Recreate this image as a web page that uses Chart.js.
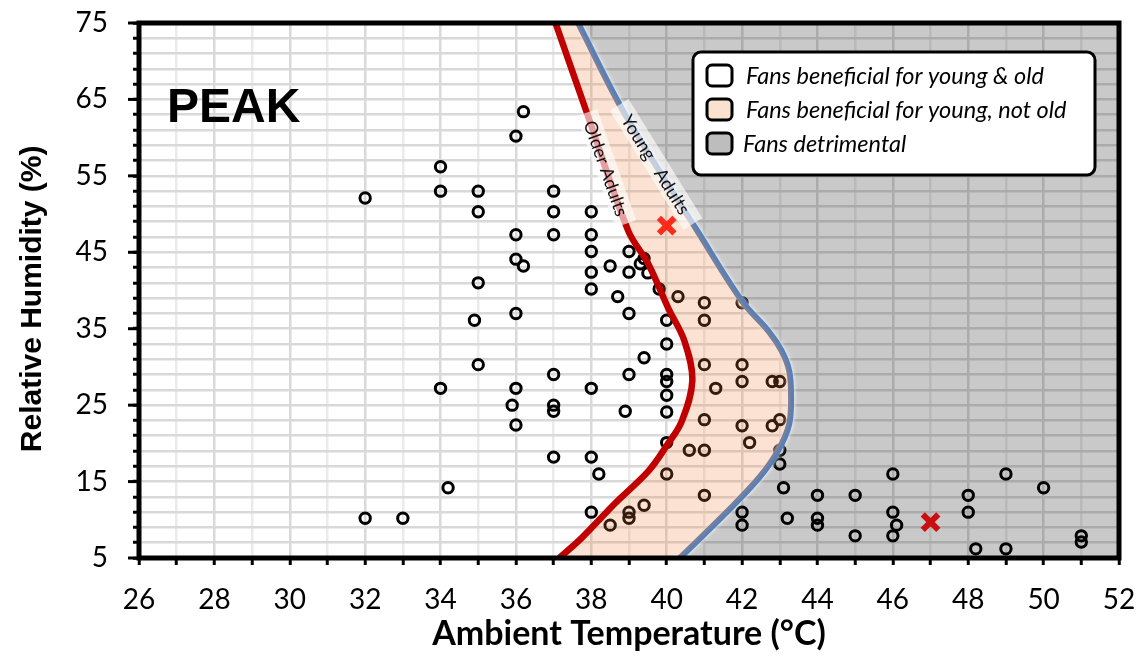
<!DOCTYPE html>
<html>
<head>
<meta charset="utf-8">
<script src="https://cdn.jsdelivr.net/npm/chart.js@4.4.1/dist/chart.umd.min.js"></script>
<style>
  html, body { margin: 0; padding: 0; background: #fff; }
  #wrap { width: 1141px; height: 656px; }
</style>
</head>
<body>
<div id="wrap"><canvas id="peakChart" width="1141" height="656"></canvas></div>
<script>
// Trials: ambient temperature (°C) and relative humidity (%)
const trialTemp = [32, 32, 33, 34, 34, 34, 34.2, 35, 35, 35, 34.9, 35,
  36, 36.2, 36, 36, 36.2, 36, 36, 35.9, 36,
  37, 37, 37, 37, 37, 37, 37,
  38, 38, 38, 38, 38, 38, 38, 38.2, 38, 38.5, 38.5, 38.7,
  39, 39, 39, 39, 38.9, 39, 39, 39.4, 39.3, 39.5, 39.8, 39.4, 39.4,
  40.3, 40, 40, 40, 40, 40, 40, 40, 40, 40.6,
  41, 41, 41, 41, 41, 41, 41.3,
  42, 42, 42, 42, 42.2, 42, 42,
  42.8, 43, 43, 42.8, 43, 43, 43.1, 43.2,
  44, 44, 44, 45, 45, 46, 46, 46.1, 46,
  48, 48, 48.2, 49, 49, 50, 51, 51];
const trialRH = [52.1, 10.2, 10.2, 56.2, 53.0, 27.2, 14.2, 53.0, 50.3, 41.0, 36.1, 30.3,
  60.2, 63.4, 47.3, 44.1, 43.2, 37.0, 27.2, 25.0, 22.4,
  53.0, 50.3, 47.3, 29.0, 25.0, 24.2, 18.2,
  50.3, 47.3, 45.1, 42.4, 40.2, 27.2, 18.2, 16.0, 11.0, 9.3, 43.2, 39.2,
  45.1, 42.4, 37.0, 29.0, 24.2, 11.0, 10.2, 44.2, 43.5, 42.3, 40.2, 31.2, 11.9,
  39.2, 36.1, 33.0, 29.0, 28.1, 26.3, 24.1, 20.1, 16.0, 19.1,
  19.1, 38.4, 36.1, 30.3, 23.1, 13.2, 27.2,
  38.4, 30.3, 28.1, 22.3, 20.1, 11.0, 9.3,
  28.1, 28.1, 23.1, 22.3, 19.1, 17.3, 14.2, 10.2,
  13.2, 10.2, 9.3, 13.2, 7.9, 16.0, 11.0, 9.3, 7.9,
  13.2, 11.0, 6.2, 16.0, 6.2, 14.2, 7.9, 7.1];

// Highlighted trials (red crosses)
const markTemp = [40, 47];
const markRH = [48.5, 9.7];

// Fan thresholds, listed from low to high humidity
const olderRH   = [5, 7.6, 12.1, 16.4, 19.7, 22.9, 28.2, 33.4, 37.7, 43.5, 47.8, 63, 75];
const olderTemp = [37.15, 37.74, 38.62, 39.52, 40.0, 40.4, 40.68, 40.47, 40.04, 39.51, 38.98, 37.9, 37.05];
const youngRH   = [5, 10.8, 15.5, 19, 22.5, 26.2, 29.5, 32.1, 34.7, 38.6, 47.5, 63, 75];
const youngTemp = [40.35, 41.55, 42.45, 42.95, 43.25, 43.3, 43.25, 43.05, 42.7, 42.0, 40.85, 38.9, 37.65];

// Labelled ticks
const tempLabels = [26, 28, 30, 32, 34, 36, 38, 40, 42, 44, 46, 48, 50, 52];
const rhLabels = [5, 15, 25, 35, 45, 55, 65, 75];

const legendItems = [
  { text: 'Fans beneficial for young & old', fill: '#FFFFFF' },
  { text: 'Fans beneficial for young, not old', fill: '#FBE1CF' },
  { text: 'Fans detrimental', fill: '#BDBDBD' }
];

const toPoints = (xs, ys) => xs.map((x, i) => ({ x: x, y: ys[i] }));

// point on a threshold curve at a given humidity, plus the local direction
function curveSpot(chart, temps, rhs, rh) {
  const sx = chart.scales.x, sy = chart.scales.y;
  let i = 0;
  while (i < rhs.length - 2 && rhs[i + 1] < rh) i++;
  const t = (rh - rhs[i]) / (rhs[i + 1] - rhs[i]);
  const lo = { x: sx.getPixelForValue(temps[i]), y: sy.getPixelForValue(rhs[i]) };
  const hi = { x: sx.getPixelForValue(temps[i + 1]), y: sy.getPixelForValue(rhs[i + 1]) };
  return {
    x: lo.x + (hi.x - lo.x) * t,
    y: lo.y + (hi.y - lo.y) * t,
    angle: Math.atan2(lo.y - hi.y, lo.x - hi.x)
  };
}

const curveTags = [
  { temps: olderTemp, rhs: olderRH, rh: 56, text: 'Older Adults', len: 118 },
  { temps: youngTemp, rhs: youngRH, rh: 56.5, text: 'Young   Adults', len: 140 }
];

function roundRect(ctx, x, y, w, h, r) {
  ctx.beginPath();
  ctx.moveTo(x + r, y);
  ctx.arcTo(x + w, y, x + w, y + h, r);
  ctx.arcTo(x + w, y + h, x, y + h, r);
  ctx.arcTo(x, y + h, x, y, r);
  ctx.arcTo(x, y, x + w, y, r);
  ctx.closePath();
}

// soft white edge round the young-adult curve
const curveGlow = {
  id: 'curveGlow',
  beforeDatasetDraw(chart, args) {
    if (args.index !== 1) return;
    chart.ctx.save();
    chart.ctx.shadowColor = 'rgba(255,255,255,0.95)';
    chart.ctx.shadowBlur = 4;
  },
  afterDatasetDraw(chart, args) {
    if (args.index !== 1) return;
    chart.ctx.restore();
  }
};

const decorations = {
  id: 'decorations',
  afterDatasetsDraw(chart) {
    const { ctx, chartArea: a } = chart;
    const sy = chart.scales.y;

    // curve labels
    curveTags.forEach(tag => {
      const s = curveSpot(chart, tag.temps, tag.rhs, tag.rh);
      ctx.save();
      ctx.translate(s.x, s.y);
      ctx.rotate(s.angle);
      ctx.fillStyle = 'rgba(255,255,255,0.62)';
      ctx.fillRect(-tag.len / 2, -11, tag.len, 22);
      ctx.fillStyle = '#111';
      ctx.font = '18px Lato';
      ctx.textAlign = 'center';
      ctx.textBaseline = 'middle';
      ctx.fillText(tag.text, 0, 1);
      ctx.restore();
    });

    // PEAK
    ctx.save();
    ctx.fillStyle = '#000';
    ctx.font = 'bold 48px "Liberation Sans"';
    ctx.textBaseline = 'alphabetic';
    ctx.fillText('PEAK', a.left + 28, a.top + 99);
    ctx.restore();

    // frame and the longer ticks at labelled humidities
    ctx.save();
    ctx.strokeStyle = '#000';
    ctx.lineWidth = 5;
    ctx.strokeRect(a.left, a.top, a.right - a.left, a.bottom - a.top);
    ctx.lineWidth = 3;
    rhLabels.forEach(v => {
      const y = sy.getPixelForValue(v);
      ctx.beginPath();
      ctx.moveTo(a.left - 11, y);
      ctx.lineTo(a.left, y);
      ctx.stroke();
    });
    ctx.restore();

    // legend
    const lx = a.right - 426, ly = a.top + 29;
    ctx.save();
    roundRect(ctx, lx, ly, 402, 123, 8);
    ctx.fillStyle = '#fff';
    ctx.fill();
    ctx.lineWidth = 3;
    ctx.strokeStyle = '#000';
    ctx.stroke();
    legendItems.forEach((item, i) => {
      const y = ly + 13 + i * 34;
      roundRect(ctx, lx + 14, y, 25, 21, 5);
      ctx.fillStyle = item.fill;
      ctx.fill();
      ctx.lineWidth = 3;
      ctx.stroke();
      ctx.fillStyle = '#000';
      ctx.font = 'italic 23.5px Lato';
      ctx.textBaseline = 'middle';
      ctx.fillText(item.text, lx + (i === 2 ? 50 : 53), y + 11);
    });
    ctx.restore();
  }
};

const ctx = document.getElementById('peakChart').getContext('2d');
const peakChart = new Chart(ctx, {
  type: 'line',
  data: {
    datasets: [
      {
        label: 'Older Adults',
        data: toPoints(olderTemp, olderRH),
        indexAxis: 'y',
        tension: 0.35,
        borderColor: '#C00000',
        borderWidth: 6.5,
        pointRadius: 0,
        backgroundColor: 'rgba(237,125,49,0.22)',
        fill: '+1'
      },
      {
        label: 'Young Adults',
        data: toPoints(youngTemp, youngRH),
        indexAxis: 'y',
        tension: 0.35,
        borderColor: '#5580BA',
        borderWidth: 6,
        pointRadius: 0,
        backgroundColor: 'rgba(0,0,0,0.21)',
        fill: { value: 52 }
      },
      {
        label: 'Marked',
        data: toPoints(markTemp, markRH),
        showLine: false,
        pointStyle: 'crossRot',
        pointRadius: 11,
        pointBorderWidth: 6,
        pointBorderColor: '#FF1414'
      },
      {
        label: 'Trials',
        data: toPoints(trialTemp, trialRH),
        showLine: false,
        pointStyle: 'circle',
        pointRadius: 5.2,
        pointBorderWidth: 3,
        pointBorderColor: '#000',
        pointBackgroundColor: 'rgba(0,0,0,0)'
      }
    ]
  },
  options: {
    responsive: false,
    animation: false,
    events: [],
    layout: { padding: { top: 23, right: 22, left: 0, bottom: 0 } },
    plugins: {
      legend: { display: false },
      tooltip: { enabled: false }
    },
    scales: {
      x: {
        type: 'linear',
        min: 26,
        max: 52,
        afterFit: s => { s.height = 98; s.paddingLeft = 0; s.paddingRight = 0; },
        border: { display: false },
        grid: {
          color: c => (c.tick && c.tick.value % 2 === 0) ? '#D9D9D9' : '#EBEBEB',
          lineWidth: 2.5,
          tickLength: 7,
          tickColor: '#000',
          tickWidth: 3
        },
        ticks: {
          stepSize: 1,
          autoSkip: false,
          maxRotation: 0,
          padding: 18,
          color: '#000',
          font: { family: 'Lato', size: 28 },
          callback: v => tempLabels.includes(v) ? String(v) : ''
        },
        title: {
          display: true,
          text: 'Ambient Temperature (°C)',
          color: '#000',
          font: { family: 'Lato', size: 34, weight: 'bold' },
          padding: { top: 0, bottom: 2 }
        }
      },
      y: {
        type: 'linear',
        min: 5,
        max: 75,
        afterFit: s => { s.width = 139; s.paddingTop = 0; s.paddingBottom = 0; },
        border: { display: false },
        grid: {
          color: '#D9D9D9',
          lineWidth: 2.5,
          tickLength: 6,
          tickColor: '#000',
          tickWidth: 3
        },
        ticks: {
          stepSize: 2,
          autoSkip: false,
          padding: 25,
          color: '#000',
          font: { family: 'Lato', size: 28 },
          callback: v => rhLabels.includes(v) ? String(v) : ''
        },
        title: {
          display: true,
          text: 'Relative Humidity (%)  ',
          color: '#000',
          font: { family: 'Liberation Sans', size: 30, weight: 'bold' },
          padding: { top: 15, bottom: 0 }
        }
      }
    }
  },
  plugins: [curveGlow, decorations]
});
</script>
</body>
</html>
